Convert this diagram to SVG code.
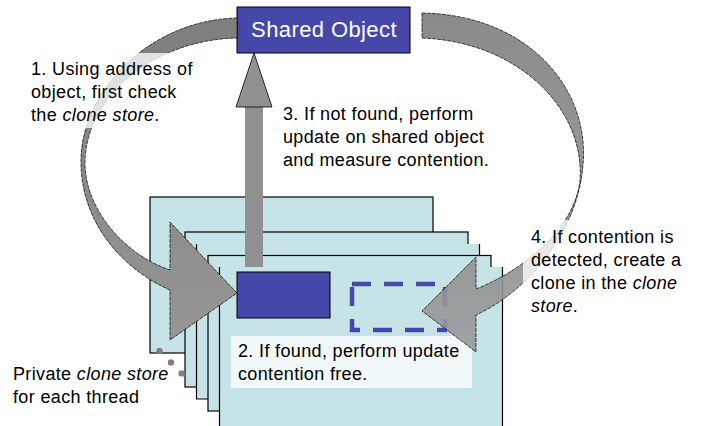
<svg xmlns="http://www.w3.org/2000/svg" width="705" height="426" viewBox="0 0 705 426">
<defs>
<style>
.t{font-family:"Liberation Sans",Arial,sans-serif;font-size:18px;fill:#000;letter-spacing:0.35px}
.i{font-style:italic}
.card{fill:#c6e4e8;stroke:#000;stroke-width:1.2}
.cf{fill:#c6e4e8}
.ce{fill:none;stroke:#000;stroke-width:1.2}
.blue{fill:#4547a9;stroke:#000;stroke-width:1}
.tb{fill:#fff;fill-opacity:0.76}
.arr{stroke:#000;stroke-width:0.7;stroke-dasharray:4 1}
</style>
<linearGradient id="gl" x1="0" y1="0" x2="0" y2="1">
<stop offset="0" stop-color="#7e7e7e"/>
<stop offset="1" stop-color="#969696"/>
</linearGradient>
<linearGradient id="gr" x1="0" y1="0" x2="0" y2="1">
<stop offset="0" stop-color="#7e7e7e"/>
<stop offset="1" stop-color="#9a9a9a"/>
</linearGradient>
</defs>
<rect width="705" height="426" fill="#fff"/>

<g id="clone-stores">
<rect class="card" x="150" y="197" width="283" height="156"/>
<rect class="card" x="185" y="232" width="283" height="155"/>
<rect class="cf" x="196.5" y="244" width="283" height="155"/>
<path class="ce" d="M196.5,244 V399 H479.5 V244"/>
<rect class="card" x="208" y="255.5" width="283" height="155.5"/>
<rect class="cf" x="219.5" y="267" width="283" height="165"/>
<path class="ce" d="M219.5,267 V432 M502.5,432 V267"/>
<g fill="#808080">
<circle cx="159.5" cy="351" r="3.2"/>
<circle cx="171" cy="362.5" r="3.2"/>
<rect x="178.5" y="370.5" width="6.5" height="6" rx="2"/>
</g>
</g>

<g id="local-object">
<rect class="blue" x="237" y="272" width="93" height="46"/>
</g>
<g id="clone">
<rect x="352" y="284" width="93" height="46" fill="none" stroke="#4547a9" stroke-width="4.5" stroke-dasharray="19 13"/>
</g>

<g id="label-2">
<rect class="tb" x="231" y="336" width="241" height="52"/>
<text class="t" x="238" y="357">2. If found, perform update</text>
<text class="t" x="238" y="380">contention free.</text>
</g>

<g id="shared-object">
<rect class="blue" x="237" y="7" width="173" height="46"/>
<text x="324" y="37" text-anchor="middle" style="font-family:'Liberation Sans',Arial,sans-serif;font-size:22px;fill:#fff;letter-spacing:0.4px">Shared Object</text>
</g>

<g id="connectors">
<path class="arr" fill="url(#gl)" d="M237,18 C150,20 82,90 81,160 C80,220 120,268 170,290 L170,340 L237,293 L170,222 L170,270 C125,255 86,210 85,165 C84,100 150,40 237,38 Z"/>
<path class="arr" fill="url(#gr)" fill-opacity="0.9" d="M422,13 C530,15 590,90 583,165 C578,230 530,290 476,315 L476,352 L422,311 L476,257 L476,289 C520,272 575,230 580,180 C585,110 520,42 422,38 Z"/>
<rect x="245" y="106" width="18" height="161" fill="#909090"/>
<path d="M236,107 L254,53 L272,107 Z" fill="#909090" stroke="#000" stroke-width="0.8"/>
</g>

<g id="label-1">
<rect class="tb" x="28" y="53" width="175" height="75"/>
<text class="t" x="31" y="75">1. Using address of</text>
<text class="t" x="31" y="98">object, first check</text>
<text class="t" x="31" y="121">the <tspan class="i">clone store</tspan>.</text>
</g>

<g id="label-3">
<text class="t" x="283" y="120">3. If not found, perform</text>
<text class="t" x="283" y="143">update on shared object</text>
<text class="t" x="283" y="166">and measure contention.</text>
</g>

<g id="label-4">
<rect class="tb" x="523" y="220" width="165" height="100"/>
<text class="t" x="531" y="243">4. If contention is</text>
<text class="t" x="531" y="266">detected, create a</text>
<text class="t" x="531" y="289">clone in the <tspan class="i">clone</tspan></text>
<text class="t" x="531" y="312"><tspan class="i">store</tspan>.</text>
</g>

<g id="label-private">
<text class="t" x="13" y="380">Private <tspan class="i">clone store</tspan></text>
<text class="t" x="13" y="403">for each thread</text>
</g>
</svg>
